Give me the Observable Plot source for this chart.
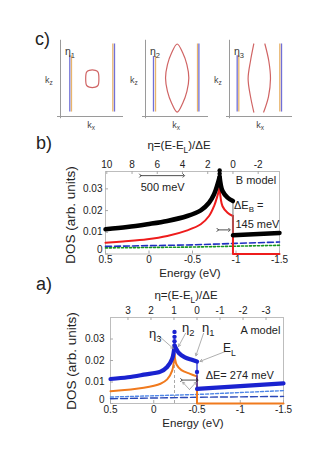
<!DOCTYPE html>
<html><head><meta charset="utf-8">
<script src="https://cdn.jsdelivr.net/npm/d3@7"></script>
<script src="https://cdn.jsdelivr.net/npm/@observablehq/plot@0.6"></script>
<style>
html,body{margin:0;padding:0;background:#fff;overflow:hidden}
#page{position:relative;width:319px;height:452px;overflow:hidden;background:#fff;font-family:"Liberation Sans",Arial,Helvetica,sans-serif;color:#222}
.t{position:absolute;white-space:nowrap;line-height:1}
.t sub{font-size:72%;vertical-align:-0.45em;line-height:0}
.p{position:absolute}
</style></head><body><div id="page"></div>
<script>
const FONT = '"Liberation Sans", Arial, Helvetica, sans-serif';
const fmt = d => String(d);

// ---------------- panel c : Fermi surface sketches (kx, kz in box units) ----------------
const fsColors = {blue: "#7070d8", orange: "#e9b56c", red: "#d06464"};
const fsEtaLabels = ["1", "2", "3"];
const fsBandPanel = [0, 0, 0, 0, 1, 1, 1, 1, 2, 2, 2, 2];
const fsBandColor = ["blue", "orange", "orange", "blue", "blue", "orange", "orange", "blue", "blue", "orange", "orange", "blue"];
const fsBandKx  = [0.155, 0.183, 0.872, 0.900, 0.133, 0.167, 0.867, 0.890, 0.128, 0.155, 0.838, 0.867];
const fsBandKz0 = [0.06, 0.06, 0.06, 0.06, 0.06, 0.06, 0.06, 0.06, 0.06, 0.06, 0.06, 0.06];
const fsBandKz1 = [0.82, 0.82, 0.98, 0.98, 0.81, 0.81, 0.98, 0.98, 0.82, 0.82, 0.98, 0.98];
// closed pocket (panel 1), lens (panel 2), two open sheets (panel 3)
const pocket1Kx = [0.64, 0.625, 0.58, 0.48, 0.435, 0.42, 0.435, 0.48, 0.58, 0.625];
const pocket1Kz = [0.51, 0.60, 0.623, 0.623, 0.60, 0.51, 0.42, 0.397, 0.397, 0.42];
const lens2Kx = [0.528, 0.62, 0.69, 0.722, 0.69, 0.62, 0.528, 0.436, 0.366, 0.334, 0.366, 0.436];
const lens2Kz = [0.98, 0.86, 0.70, 0.52, 0.34, 0.18, 0.06, 0.18, 0.34, 0.52, 0.70, 0.86];
const sheet3LKx = [0.405, 0.35, 0.31, 0.35, 0.405];
const sheet3RKx = [0.59, 0.655, 0.683, 0.65, 0.57];
const sheet3Kz  = [0.98, 0.75, 0.51, 0.27, 0.06];

// ---------------- panel b : B model ----------------
const bEL = -0.965, bDeltaE = 0.145;
const bEnergyTicks = [0.5, 0, -0.5, -1, -1.5];
const bEtaTicks = [10, 8, 6, 4, 2, 0, -2];
const bDosTicks = [0, 0.01, 0.02, 0.03];
const bBlackRiseE = [0.5, 0.25, 0.02, -0.21, -0.44, -0.595, -0.69, -0.748, -0.787, -0.812];
const bBlackRiseV = [0.0114, 0.0124, 0.0137, 0.0152, 0.0175, 0.0201, 0.0236, 0.0275, 0.032, 0.0355];
const bBlackFallE = [-0.812, -0.845, -0.903, -0.965];
const bBlackFallV = [0.0355, 0.029, 0.026, 0.0244];
const bBlackLowE = [-0.965, -1.2, -1.5];
const bBlackLowV = [0.0086, 0.0091, 0.0097];
const bBlackPeakDotsV = [0.0385, 0.037];
const bRedRiseE = [0.5, 0.3, 0.02, -0.21, -0.44, -0.595, -0.69, -0.748, -0.787, -0.812];
const bRedRiseV = [0.0052, 0.0058, 0.0068, 0.0083, 0.0109, 0.0137, 0.0175, 0.0221, 0.0268, 0.0306];
const bRedFallE = [-0.812, -0.845, -0.903, -0.965];
const bRedFallV = [0.0306, 0.022, 0.019, 0.0175];
const bRedLowE = [-0.965, -0.965, -1.5];
const bRedLowV = [0.0175, 0, 0];
const bSideE = [0.5, -0.5, -1.0, -1.5];
const bBlueDashV = [0.0035, 0.0042, 0.0049, 0.0055];
const bGreenDotV = [0.0028, 0.0032, 0.0036, 0.004];

// ---------------- panel a : A model ----------------
const aEL = -0.5, aDeltaE = 0.266;
const aEnergyTicks = [0.5, 0, -0.5, -1, -1.5];
const aEtaTicks = [3, 2, 1, 0, -1, -2, -3];
const aDosTicks = [0, 0.01, 0.02, 0.03];
const aPeakE = -0.24;
const aBlueRiseE = [0.5, 0.3, 0.115, -0.078, -0.155, -0.213, -0.24];
const aBlueRiseV = [0.0114, 0.0122, 0.0134, 0.0148, 0.017, 0.0208, 0.027];
const aBlueFallE = [-0.24, -0.29, -0.36, -0.44, -0.5];
const aBlueFallV = [0.027, 0.0235, 0.0215, 0.0203, 0.0195];
const aBlueLowE = [-0.5, -1.0, -1.5];
const aBlueLowV = [0.0068, 0.0081, 0.0094];
const aBluePeakDotsV = [0.0333, 0.031, 0.029];
const aBlueStepDotsV = [0.0147];
const aOrangeRiseE = [0.5, 0.115, -0.078, -0.155, -0.213, -0.24];
const aOrangeRiseV = [0.0057, 0.0073, 0.0092, 0.0112, 0.0153, 0.023];
const aOrangeFallE = [-0.24, -0.265, -0.32, -0.42, -0.5];
const aOrangeFallV = [0.023, 0.018, 0.0155, 0.0138, 0.0126];
const aOrangeLowE = [-0.5, -0.5, -1.5];
const aOrangeLowV = [0.0126, 0, 0];
const aSideE = [0.5, -0.5, -1.5];
const aLightDotV = [0.003, 0.0042, 0.006];
const aDarkDashV = [0.0022, 0.0029, 0.0033];
// annotation pointers (from label to curve), in data units
const aPtrX1 = [-0.055, -0.367, -0.575, -0.829];
const aPtrY1 = [0.0316, 0.0326, 0.0326, 0.0242];
const aPtrX2 = [-0.225, -0.286, -0.487, -0.535];
const aPtrY2 = [0.0256, 0.0265, 0.0222, 0.0196];

const zip = (xs, ys, extra = {}) => xs.map((x, i) => ({x, y: ys[i], ...extra}));

const page = document.getElementById("page");
function txt(html, x, y, size, opts = {}) {
  const d = document.createElement("div");
  d.className = "t";
  d.innerHTML = html;
  d.style.left = x + "px";
  d.style.top = y + "px";
  d.style.fontSize = size + "px";
  if (opts.color) d.style.color = opts.color;
  const tx = opts.anchor === "start" ? "0" : "-50%";
  d.style.transform = `translate(${tx},-50%)` + (opts.rotate ? " rotate(-90deg)" : "");
  page.appendChild(d);
}
function put(svg, left, top) {
  svg.classList.add("p");
  svg.style.left = left + "px";
  svg.style.top = top + "px";
  page.appendChild(svg);
}

// ---------- panel c ----------
const fsBands = fsBandKx.map((kx, i) => ({p: fsBandPanel[i], kx, kz0: fsBandKz0[i], kz1: fsBandKz1[i], color: fsColors[fsBandColor[i]]}));
const fsClosed = [
  ...zip(pocket1Kx, pocket1Kz, {p: 0, id: "a"}),
  ...zip(lens2Kx, lens2Kz, {p: 1, id: "b"})
];
const fsOpen = [
  ...zip(sheet3LKx, sheet3Kz, {p: 2, id: "l"}),
  ...zip(sheet3RKx, sheet3Kz, {p: 2, id: "r"})
];
const fsLeft = [40, 125, 209];
fsLeft.forEach((left, i) => {
  const svg = Plot.plot({
    width: 80, height: 95, marginLeft: 20, marginRight: 0, marginTop: 6, marginBottom: 15,
    x: {domain: [0, 1], axis: null}, y: {domain: [0, 1], axis: null},
    color: {type: "identity"},
    style: {background: "transparent", overflow: "visible"},
    marks: [
      Plot.ruleX([0], {y1: -0.03, y2: 1.03, stroke: "#9a9a9a", strokeWidth: 1}),
      Plot.ruleY([0], {x1: -0.05, x2: 1.05, stroke: "#9a9a9a", strokeWidth: 1}),
      Plot.ruleX(fsBands.filter(d => d.p === i), {x: "kx", y1: "kz0", y2: "kz1", stroke: "color", strokeWidth: 1.3}),
      Plot.line(fsClosed.filter(d => d.p === i), {x: "x", y: "y", z: "id", curve: "catmull-rom-closed", stroke: fsColors.red, strokeWidth: 1.2}),
      Plot.line(fsOpen.filter(d => d.p === i), {x: "x", y: "y", z: "id", curve: "catmull-rom", stroke: fsColors.red, strokeWidth: 1.2})
    ]
  });
  put(svg, left, 36);
  txt("η<sub>" + fsEtaLabels[i] + "</sub>", left + 25, 51, 10.5, {anchor: "start", color: "#333"});
  txt("k<sub>z</sub>", left + 5, 80, 9, {anchor: "start", color: "#444"});
  txt("k<sub>x</sub>", left + 51, 125, 9, {color: "#444"});
});
txt("c)", 35, 39, 18, {anchor: "start"});

// ---------- generic DOS panel ----------
function dosPlot(cfg) {
  const innerH = cfg.height - cfg.marginTop - cfg.marginBottom;
  const innerW = 319 - cfg.marginLeft - cfg.marginRight;
  return Plot.plot({
    width: 319, height: cfg.height,
    marginLeft: cfg.marginLeft, marginRight: cfg.marginRight, marginTop: cfg.marginTop, marginBottom: cfg.marginBottom,
    x: {domain: [0.5, -1.5]}, y: {domain: cfg.yDomain},
    color: {type: "identity"},
    style: {fontFamily: FONT, fontSize: "10px", background: "transparent", color: "#222", overflow: "visible"},
    marks: [
      Plot.frame({stroke: "#bdbdbd"}),
      Plot.ruleX(cfg.energyTicks, {insetTop: innerH - 3, stroke: "#aaa"}),
      Plot.ruleX(cfg.etaTicks.map(h => cfg.EL + h * cfg.dE), {insetBottom: innerH - 3, stroke: "#aaa"}),
      Plot.ruleY(cfg.dosTicks, {insetRight: innerW - 3, stroke: "#aaa"}),
      Plot.axisX(cfg.energyTicks, {anchor: "bottom", tickSize: 0, tickPadding: 2, tickFormat: fmt, label: null}),
      Plot.axisX(cfg.etaTicks.map(h => cfg.EL + h * cfg.dE), {anchor: "top", tickSize: 0, tickPadding: cfg.topPad, tickFormat: d => fmt(Math.round((d - cfg.EL) / cfg.dE)), label: null}),
      Plot.axisY(cfg.dosTicks.filter(d => d > 0), {anchor: "left", tickSize: 0, tickPadding: cfg.leftPad, tickFormat: fmt, label: null}),
      Plot.axisY(cfg.dosTicks.filter(d => d === 0), {anchor: "left", tickSize: 0, tickPadding: cfg.leftPad, tickFormat: fmt, label: null, dy: -4}),
      ...cfg.marks
    ]
  });
}

// ---------- panel b ----------
const bBlackHi = [...zip(bBlackRiseE, bBlackRiseV, {s: "r"}), ...zip(bBlackFallE, bBlackFallV, {s: "f"})];
const bBlackLo = zip(bBlackLowE, bBlackLowV);
const bRedHi = [...zip(bRedRiseE, bRedRiseV, {s: "r"}), ...zip(bRedFallE, bRedFallV, {s: "f"})];
const bRedLo = zip(bRedLowE, bRedLowV);
const bStep = [{x: bBlackFallE[bBlackFallE.length - 1], y1: bBlackFallV[bBlackFallV.length - 1], y2: bBlackLowV[0]}];
const bSvg = dosPlot({
  height: 147, marginLeft: 105, marginRight: 40, marginTop: 38, marginBottom: 26.5,
  yDomain: [0, 0.038], EL: bEL, dE: bDeltaE,
  energyTicks: bEnergyTicks, etaTicks: bEtaTicks, dosTicks: bDosTicks, topPad: 4, leftPad: 3,
  marks: [
    Plot.line(zip(bSideE, bGreenDotV), {x: "x", y: "y", stroke: "#17961c", strokeWidth: 1.6, strokeDasharray: "2,2"}),
    Plot.line(zip(bSideE, bBlueDashV), {x: "x", y: "y", stroke: "#1f2fc0", strokeWidth: 1.6, strokeDasharray: "6,3"}),
    Plot.line(bRedHi, {x: "x", y: "y", z: "s", stroke: "#ee1c1c", strokeWidth: 2, curve: "catmull-rom"}),
    Plot.line(bRedLo, {x: "x", y: "y", stroke: "#ee1c1c", strokeWidth: 2}),
    Plot.ruleX(bStep, {x: "x", y1: "y1", y2: "y2", stroke: "#777", strokeWidth: 1}),
    Plot.line(bBlackHi, {x: "x", y: "y", z: "s", stroke: "#000", strokeWidth: 4.5, curve: "catmull-rom"}),
    Plot.line(bBlackLo, {x: "x", y: "y", stroke: "#000", strokeWidth: 4.5}),
    Plot.dot(bBlackPeakDotsV, {x: () => bBlackRiseE[bBlackRiseE.length - 1], y: d => d, r: 2.2, fill: "#000"}),
    Plot.link([{x1: 0.1, x2: -0.4, y: 0.0361}], {x1: "x1", x2: "x2", y1: "y", y2: "y", stroke: "#222", strokeWidth: 0.8, markerStart: "arrow", markerEnd: "arrow"}),
    Plot.link([{x1: -0.79, x2: -0.925, y: 0.0111}], {x1: "x1", x2: "x2", y1: "y", y2: "y", stroke: "#222", strokeWidth: 0.8, markerStart: "arrow", markerEnd: "arrow"}),
    Plot.text(["500 meV"], {x: -0.157, y: 0.0306, fontSize: 11}),
    Plot.text(["B model"], {x: -1.229, y: 0.0338, fontSize: 11}),
    Plot.text(["145 meV"], {x: -0.993, y: 0.0135, fontSize: 11, textAnchor: "start"})
  ]
});
put(bSvg, 0, 133);
txt("b)", 36, 143, 18, {anchor: "start"});
txt("η=(E-E<sub>L</sub>)/ΔE", 179, 146, 11.5);
txt("DOS (arb. units)", 71, 215, 13.5, {rotate: true});
txt("Energy (eV)", 190, 273.5, 11.5);
txt("ΔE<sub>B</sub> =", 234, 205, 11, {anchor: "start"});

// ---------- panel a ----------
const aBlueHi = [...zip(aBlueRiseE, aBlueRiseV, {s: "r"}), ...zip(aBlueFallE, aBlueFallV, {s: "f"})];
const aBlueLo = zip(aBlueLowE, aBlueLowV);
const aOrangeHi = [...zip(aOrangeRiseE, aOrangeRiseV, {s: "r"}), ...zip(aOrangeFallE, aOrangeFallV, {s: "f"})];
const aOrangeLo = zip(aOrangeLowE, aOrangeLowV);
const aStep = [{x: aBlueFallE[aBlueFallE.length - 1], y1: aBlueFallV[aBlueFallV.length - 1], y2: aBlueLowV[0]}];
const aPtrs = aPtrX1.map((x1, i) => ({x1, y1: aPtrY1[i], x2: aPtrX2[i], y2: aPtrY2[i]}));
const aSvg = dosPlot({
  height: 170, marginLeft: 110, marginRight: 36, marginTop: 35, marginBottom: 49,
  yDomain: [0, 0.04], EL: aEL, dE: aDeltaE,
  energyTicks: aEnergyTicks, etaTicks: aEtaTicks, dosTicks: aDosTicks, topPad: 4, leftPad: 6,
  marks: [
    Plot.ruleX([aPeakE], {y1: 0, y2: aOrangeRiseV[aOrangeRiseV.length - 1], stroke: "#aaa", strokeWidth: 1, strokeDasharray: "3,2"}),
    Plot.line(zip(aSideE, aDarkDashV), {x: "x", y: "y", stroke: "#2a48b8", strokeWidth: 1.4, strokeDasharray: "7,3"}),
    Plot.line(zip(aSideE, aLightDotV), {x: "x", y: "y", stroke: "#4f86e6", strokeWidth: 1.4, strokeDasharray: "3,2"}),
    Plot.line(aOrangeHi, {x: "x", y: "y", z: "s", stroke: "#f07a1e", strokeWidth: 2, curve: "catmull-rom"}),
    Plot.line(aOrangeLo, {x: "x", y: "y", stroke: "#f07a1e", strokeWidth: 2}),
    Plot.ruleX(aStep, {x: "x", y1: "y1", y2: "y2", stroke: "#1a22d0", strokeWidth: 1.2}),
    Plot.line(aBlueHi, {x: "x", y: "y", z: "s", stroke: "#1a22d0", strokeWidth: 4.2, curve: "catmull-rom"}),
    Plot.line(aBlueLo, {x: "x", y: "y", stroke: "#1a22d0", strokeWidth: 4.2}),
    Plot.dot(aBluePeakDotsV, {x: () => aPeakE, y: d => d, r: 2.2, fill: "#1a22d0"}),
    Plot.dot(aBlueStepDotsV, {x: () => aEL, y: d => d, r: 2.2, fill: "#1a22d0"}),
    Plot.arrow(aPtrs, {x1: "x1", y1: "y1", x2: "x2", y2: "y2", stroke: "#9a9a9a", strokeWidth: 0.8, headLength: 5}),
    Plot.arrow([{x1: -0.413, y1: 0.0065, x2: -0.335, y2: 0.0099}, {x1: -0.413, y1: 0.0065, x2: -0.49, y2: 0.0099}], {x1: "x1", y1: "y1", x2: "x2", y2: "y2", stroke: "#9a9a9a", strokeWidth: 0.8, headLength: 4}),
    Plot.link([{x1: -0.32, x2: -0.505, y: 0.0109}], {x1: "x1", x2: "x2", y1: "y", y2: "y", stroke: "#222", strokeWidth: 0.8, markerStart: "arrow", markerEnd: "arrow"}),
    Plot.text(["A model"], {x: -1.234, y: 0.034, fontSize: 11}),
    Plot.text(["ΔE= 274 meV"], {x: -0.6, y: 0.0132, fontSize: 11, textAnchor: "start"})
  ]
});
put(aSvg, 0, 282);
txt("a)", 36, 284, 18, {anchor: "start"});
txt("η=(E-E<sub>L</sub>)/ΔE", 186, 296, 11.5);
txt("DOS (arb. units)", 72, 361, 13.5, {rotate: true});
txt("Energy (eV)", 193, 423.5, 11.5);
txt("η<sub>3</sub>", 149, 333, 13, {anchor: "start"});
txt("η<sub>2</sub>", 182, 327, 13, {anchor: "start"});
txt("η<sub>1</sub>", 202, 327, 13, {anchor: "start"});
txt("E<sub>L</sub>", 223, 348, 12, {anchor: "start"});
</script></body></html>
